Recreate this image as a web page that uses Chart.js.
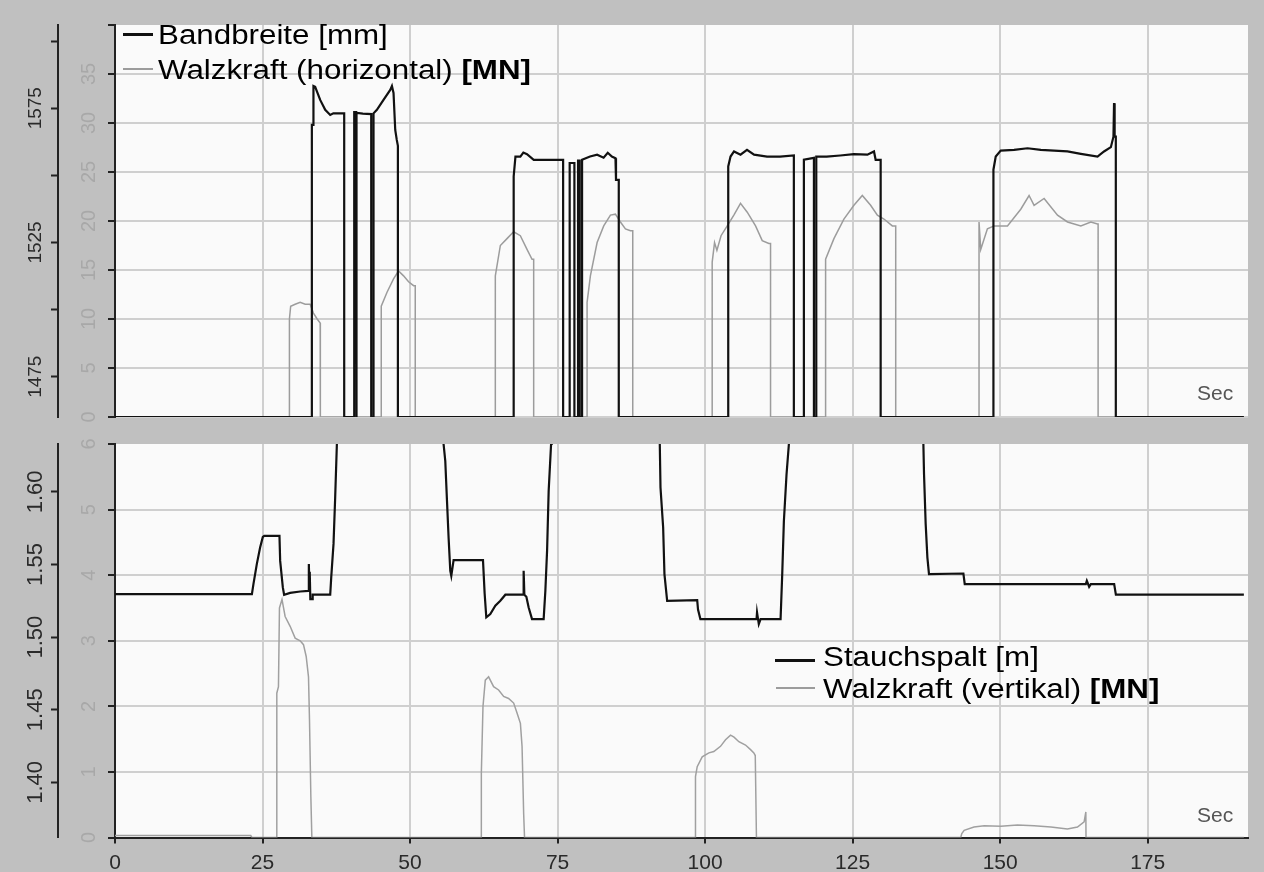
<!DOCTYPE html>
<html>
<head>
<meta charset="utf-8">
<script src="https://cdn.jsdelivr.net/npm/chart.js@4.4.1/dist/chart.umd.min.js"></script>
<style>
  html, body { margin: 0; padding: 0; }
  body { width: 1264px; height: 872px; overflow: hidden; background: #c0c0c0; position: relative; font-family: "Liberation Sans", Arial, sans-serif; }
  canvas { position: absolute; left: 0; }
  .lg { position: absolute; font-size: 27px; line-height: 27px; color: #000; white-space: nowrap; transform: scaleX(1.16); transform-origin: 0 0; }
  .lg b { font-weight: bold; }
  .sw { position: absolute; }
  .sec { position: absolute; font-size: 21px; line-height: 21px; color: #555; }
</style>
</head>
<body>
<canvas id="topCanvas" width="1264" height="430" style="top:0"></canvas>
<canvas id="botCanvas" width="1264" height="442" style="top:430px"></canvas>

<div class="sw" style="left:123px;top:33px;width:30px;height:2.5px;background:#111"></div>
<div class="lg" style="left:158px;top:22px">Bandbreite [mm]</div>
<div class="sw" style="left:123px;top:67.5px;width:30px;height:2px;background:#9c9c9c"></div>
<div class="lg" style="left:158px;top:57px">Walzkraft (horizontal) <b>[MN]</b></div>
<div class="sec" style="left:1197px;top:382px">Sec</div>

<div class="sw" style="left:775px;top:658.5px;width:40px;height:3px;background:#111"></div>
<div class="lg" style="left:823px;top:644px">Stauchspalt [m]</div>
<div class="sw" style="left:776px;top:687px;width:39px;height:2px;background:#9c9c9c"></div>
<div class="lg" style="left:823px;top:675.5px">Walzkraft (vertikal) <b>[MN]</b></div>
<div class="sec" style="left:1197px;top:804px">Sec</div>

<script>
// ---------- X axis ----------
const xMin = 0, xMax = 192, xStep = 25;

// ---------- Top panel: Bandbreite [mm] (outer axis) ----------
const bandbreiteT = [0,33.36,33.36,33.58,33.63,33.92,34.77,35.62,36.47,37.0,38.0,38.84,38.84,
  40.54,40.54,40.88,40.88,40.95,40.95,42.0,43.42,43.42,43.81,43.81,44.38,45.5,46.64,46.93,47.2,47.49,47.75,47.94,47.94,
  67.56,67.56,67.86,68.69,69.2,69.82,70.96,73.0,75.77,75.94,75.94,
  77.05,77.05,77.85,77.85,78.47,78.47,78.75,78.75,79.15,79.15,80.5,81.7,82.8,83.5,84.2,84.81,84.9,85.37,85.37,
  103.92,103.92,104.31,104.9,106.0,107.1,108.3,110.5,112.7,115.04,115.04,
  116.74,116.74,118.44,118.44,118.84,118.84,120.6,122.9,125.2,127.5,128.62,128.9,129.75,129.75,
  148.86,148.86,149.25,150.1,152.36,154.63,156.89,159.15,161.41,163.67,166.5,167.6,168.76,169.2,169.3,169.4,169.6,169.6,191.3];
const bandbreiteMM = [1460,1460,1568.8,1568.8,1583.3,1583.0,1578.1,1574.4,1572.5,1573.1,1573.1,1573.1,1460,
  1460,1573.6,1573.6,1460,1460,1573.3,1573.0,1572.8,1460,1460,1573.1,1574.4,1578.1,1581.8,1583.3,1580.7,1566.9,1563.2,1561.0,1460,
  1460,1549.6,1557.0,1557.0,1558.5,1557.9,1555.8,1555.8,1555.8,1555.8,1460,
  1460,1554.6,1554.6,1460,1460,1555.5,1555.5,1460,1460,1555.8,1557.0,1557.7,1556.6,1558.4,1557.0,1556.4,1548.3,1548.3,1460,
  1460,1553.3,1557.0,1558.9,1557.7,1559.5,1557.7,1557.0,1557.0,1557.4,1460,
  1460,1555.8,1556.5,1460,1460,1557.0,1557.0,1557.4,1557.9,1557.7,1558.9,1555.8,1555.8,1460,
  1460,1552.1,1557.0,1559.2,1559.5,1560.1,1559.5,1559.2,1558.9,1558.0,1557.0,1558.9,1560.5,1564.4,1576.9,1564.4,1564.4,1460,1460];

// ---------- Top panel: Walzkraft (horizontal) [MN] (inner axis) ----------
const walzHorT = [0,29.56,29.56,29.77,30.53,31.38,32.23,33.07,33.63,34.26,34.77,34.8,
  45.12,45.12,46.08,47.2,48.05,48.9,49.75,50.6,50.88,50.88,
  64.45,64.45,65.3,66.43,67.56,68.69,69.82,70.67,70.95,70.95,
  80.0,80.0,80.56,81.7,82.82,83.96,84.8,85.65,86.5,87.35,87.74,87.74,
  101.2,101.2,101.6,102.0,102.7,103.75,104.87,106.0,107.14,108.55,109.68,110.8,111.09,111.09,
  120.42,120.42,121.83,123.52,125.22,126.64,128.05,129.19,130.3,131.73,132.3,132.3,
  146.42,146.42,146.71,147.84,148.97,151.24,153.49,154.9,155.75,157.45,159.72,161.41,163.67,165.37,166.5,166.6,166.6,191.3];
const walzHorMN = [0,0,10.0,11.3,11.5,11.7,11.5,11.5,10.6,10.0,9.6,0,
  0,11.3,12.7,14.1,14.9,14.4,13.8,13.4,13.4,0,
  0,14.4,17.5,18.2,18.9,18.5,17.1,16.1,16.1,0,
  0,11.7,14.4,17.8,19.5,20.6,20.7,19.9,19.2,19.0,19.0,0,
  0,15.8,17.8,17.0,18.5,19.5,20.6,21.8,20.9,19.5,18.0,17.7,17.7,0,
  0,16.1,18.2,20.2,21.6,22.6,21.6,20.6,20.2,19.5,19.5,0,
  0,19.9,17.1,19.2,19.5,19.5,21.2,22.6,21.6,22.3,20.6,19.9,19.5,19.9,19.7,19.7,0,0];

// ---------- Bottom panel: Stauchspalt [m] (outer axis) ----------
const stauchT = [0,23.2,23.46,24.03,24.59,25.05,25.3,27.87,27.99,28.44,28.66,29.68,31.38,32.79,32.85,32.95,33.0,33.1,33.4,33.5,36.47,36.64,37.03,37.31,37.6,37.7,
  55.6,55.68,55.97,56.26,56.53,56.82,56.99,57.38,62.36,62.64,62.92,63.6,64.45,65.3,66.15,69.15,69.25,69.37,69.71,70.1,70.67,72.64,72.93,73.22,73.49,73.9,74.0,
  92.2,92.32,92.44,92.89,93.11,93.57,98.66,98.8,99.2,108.72,108.8,109.1,109.4,112.79,113.07,113.35,113.8,114.2,114.3,
  136.9,136.99,137.1,137.38,137.67,137.94,143.77,144.0,164.52,164.69,165.08,165.37,169.32,169.61,191.3];
const stauchM = [1.5296,1.5296,1.5365,1.5503,1.5617,1.569,1.5697,1.5697,1.5525,1.5342,1.5292,1.5305,1.5314,1.5319,1.5503,1.5319,1.545,1.5262,1.5262,1.5292,1.5292,1.541,1.5642,1.596,1.633,1.70,
  1.70,1.633,1.6213,1.5938,1.5686,1.5457,1.5422,1.553,1.553,1.53,1.5136,1.5159,1.5216,1.525,1.5292,1.5292,1.5457,1.5292,1.5278,1.5204,1.5124,1.5124,1.5319,1.5594,1.6007,1.633,1.70,
  1.70,1.633,1.603,1.5755,1.5434,1.525,1.5255,1.519,1.5124,1.5124,1.517,1.509,1.5124,1.5124,1.5434,1.58,1.6122,1.633,1.70,
  1.70,1.633,1.6122,1.5778,1.5548,1.5434,1.5438,1.5365,1.5365,1.5388,1.5347,1.5365,1.5365,1.5292,1.5292];

// ---------- Bottom panel: Walzkraft (vertikal) [MN] (inner axis) ----------
const walzVerT = [0,23.0,23.2,27.42,27.42,27.7,27.87,28.3,28.83,29.68,30.53,31.38,31.94,32.4,32.79,32.96,33.19,33.36,
  62.08,62.08,62.36,62.75,63.31,64.16,65.01,65.86,66.7,67.56,68.13,68.7,68.98,69.25,69.4,
  98.37,98.37,98.66,99.51,100.64,101.48,102.61,103.46,104.31,104.9,105.72,106.85,107.7,108.26,108.5,108.7,
  143.32,143.5,143.9,145.57,147.3,150.1,152.93,155.75,158.6,161.4,163.1,164.23,164.52,164.55,191.3];
const walzVerMN = [0.03,0.03,0,0,2.2,2.3,3.5,3.63,3.37,3.22,3.04,3.0,2.94,2.76,2.45,1.79,0.62,0,
  0,0.98,2.0,2.40,2.45,2.30,2.25,2.15,2.12,2.05,1.90,1.74,1.39,0.37,0,
  0,0.93,1.08,1.23,1.29,1.31,1.39,1.49,1.56,1.53,1.46,1.41,1.34,1.29,1.25,0,
  0,0.06,0.11,0.16,0.18,0.17,0.19,0.18,0.16,0.13,0.16,0.24,0.39,0,0];

// ---------- Axis ranges / tick labels ----------
const topOuterRange = [1460, 1606], topOuterStep = 25, topOuterLabeled = [1475, 1525, 1575];
const topInnerRange = [0, 40], topInnerStep = 5;
const botOuterRange = [1.362, 1.633], botOuterStep = 0.05;
const botInnerRange = [0, 6], botInnerStep = 1;

// ---------- helpers ----------
const pts = (ts, vs) => ts.map((t, i) => ({ x: t, y: vs[i] }));
const FONT = '"Liberation Sans", Arial, sans-serif';
Chart.defaults.font.family = FONT;
const gridColor = '#cfcfcf';
const axisColor = '#222';

const plotBg = {
  id: 'plotBg',
  beforeDraw(chart) {
    const { ctx, chartArea: a } = chart;
    ctx.save();
    ctx.fillStyle = '#fafafa';
    ctx.fillRect(a.left, a.top, a.right - a.left, a.bottom - a.top);
    ctx.restore();
  }
};

function fixWidth(w) {
  return s => { s.width = w; s.paddingTop = 0; s.paddingBottom = 0; };
}

function outerAxis(range, step, padding, size, cb) {
  return {
    type: 'linear', position: 'left', weight: 10,
    min: range[0], max: range[1],
    ticks: { stepSize: step, includeBounds: false, autoSkip: false, minRotation: 90, maxRotation: 90,
             crossAlign: 'center', padding: padding, color: '#2a2a2a', font: { size: size }, callback: cb },
    grid: { drawOnChartArea: false, drawTicks: true, tickLength: 7, tickColor: axisColor, tickWidth: 2, color: axisColor },
    border: { display: true, color: axisColor, width: 2 },
    afterFit: fixWidth(58)
  };
}
function innerAxis(range, step, padding, cb) {
  return {
    type: 'linear', position: 'left', weight: 1,
    min: range[0], max: range[1],
    ticks: { stepSize: step, includeBounds: false, autoSkip: false, minRotation: 90, maxRotation: 90,
             crossAlign: 'center', padding: padding, color: '#a8a8a8', font: { size: 20 }, callback: cb },
    grid: { drawOnChartArea: true, lineWidth: 2, drawTicks: true, tickLength: 7, tickColor: axisColor, tickWidth: 2,
            color: c => (c.tick && c.tick.value === range[1]) ? 'rgba(0,0,0,0)' : gridColor },
    border: { display: true, color: axisColor, width: 2 },
    afterFit: fixWidth(57)
  };
}

const lineStyle = (color, width) => ({ borderColor: color, backgroundColor: color, borderWidth: width,
  pointRadius: 0, tension: 0, fill: false, spanGaps: true });

// ---------- Top chart ----------
new Chart(document.getElementById('topCanvas'), {
  type: 'line',
  data: {
    datasets: [
      Object.assign({ label: 'Bandbreite [mm]', data: pts(bandbreiteT, bandbreiteMM), yAxisID: 'yOuter' }, lineStyle('#111', 2.2)),
      Object.assign({ label: 'Walzkraft (horizontal) [MN]', data: pts(walzHorT, walzHorMN), yAxisID: 'yInner' }, lineStyle('#9c9c9c', 1.5))
    ]
  },
  options: {
    responsive: false, animation: false, devicePixelRatio: 1,
    layout: { padding: { top: 25, right: 16, left: 0, bottom: 0 } },
    plugins: { legend: { display: false }, tooltip: { enabled: false } },
    scales: {
      x: {
        type: 'linear', min: xMin, max: xMax,
        ticks: { display: false, stepSize: xStep, includeBounds: false },
        grid: { color: gridColor, lineWidth: 2, drawTicks: false },
        border: { display: false },
        afterFit: s => { s.height = 13; s.paddingLeft = 0; s.paddingRight = 0; }
      },
      yOuter: outerAxis(topOuterRange, topOuterStep, -6.13, 19, v => topOuterLabeled.includes(v) ? String(v) : ''),
      yInner: innerAxis(topInnerRange, topInnerStep, 7.38, v => v === topInnerRange[1] ? '' : String(v))
    }
  },
  plugins: [plotBg]
});

// ---------- Bottom chart ----------
new Chart(document.getElementById('botCanvas'), {
  type: 'line',
  data: {
    datasets: [
      Object.assign({ label: 'Stauchspalt [m]', data: pts(stauchT, stauchM), yAxisID: 'yOuter' }, lineStyle('#111', 2.2)),
      Object.assign({ label: 'Walzkraft (vertikal) [MN]', data: pts(walzVerT, walzVerMN), yAxisID: 'yInner' }, lineStyle('#a0a0a0', 1.5))
    ]
  },
  options: {
    responsive: false, animation: false, devicePixelRatio: 1,
    layout: { padding: { top: 14, right: 16, left: 0, bottom: 0 } },
    plugins: { legend: { display: false }, tooltip: { enabled: false } },
    scales: {
      x: {
        type: 'linear', min: xMin, max: xMax,
        ticks: { stepSize: xStep, includeBounds: false, autoSkip: false, maxRotation: 0, padding: 7.5, color: '#2a2a2a', font: { size: 21 } },
        grid: { color: gridColor, lineWidth: 2, drawTicks: true, tickLength: 6, tickColor: axisColor, tickWidth: 2 },
        border: { display: true, color: axisColor, width: 2 },
        afterFit: s => { s.height = 34.5; s.paddingLeft = 0; s.paddingRight = 0; }
      },
      yOuter: outerAxis(botOuterRange, botOuterStep, -6.4, 22, v => v.toFixed(2)),
      yInner: innerAxis(botInnerRange, botInnerStep, 12.94, v => String(v))
    }
  },
  plugins: [plotBg]
});
</script>
</body>
</html>
